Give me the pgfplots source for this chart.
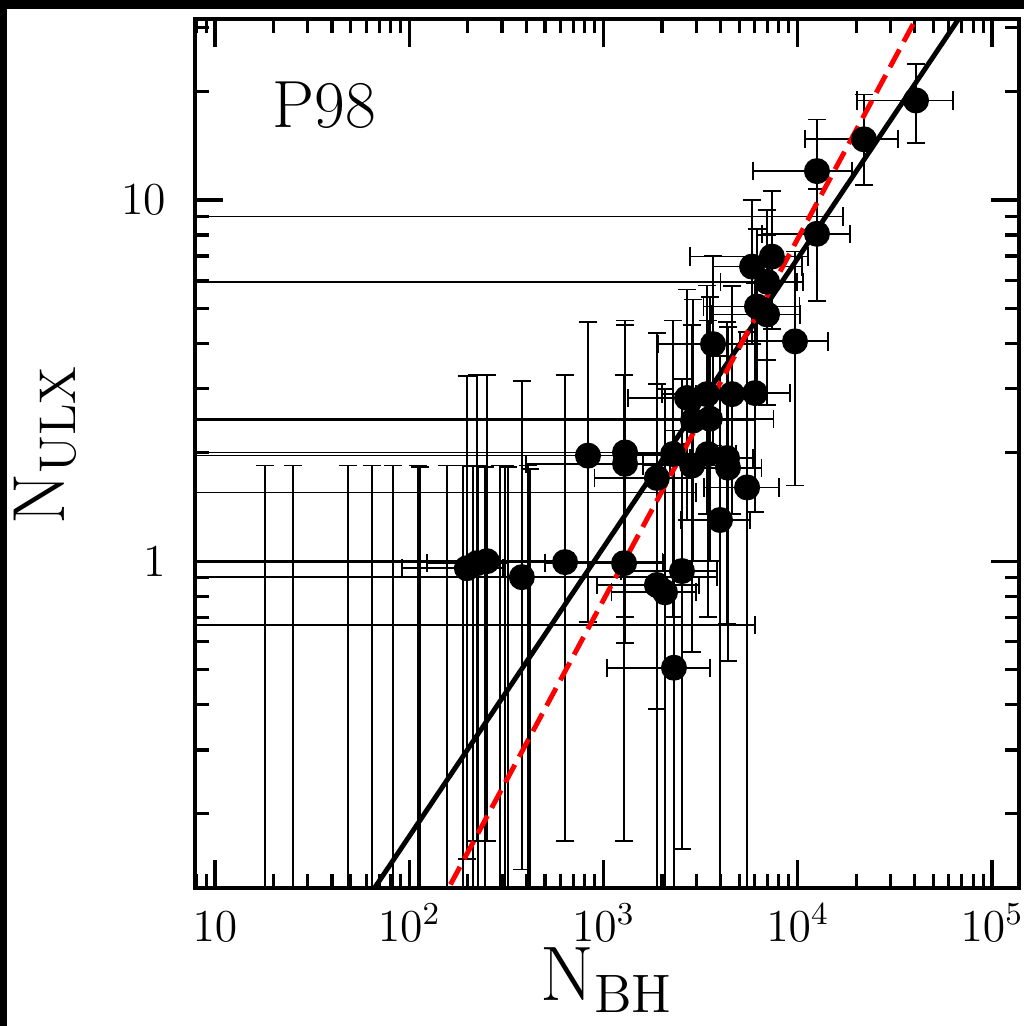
\RequirePackage{fix-cm}
\documentclass[border=0pt]{standalone}
\usepackage{pgfplots}
\usepackage{pgfplotstable}
\pgfplotsset{compat=1.18}

% galaxies with a visible marker: N_BH, N_ULX and the ends of their error bars
\pgfplotstableread{
x y xlo xhi ylo yhi
40640 18.86 20180 62960 14.4 23.8
21930 14.72 10890 32800 11.0 19.6
12560 12.02 5890 19010 8.4 16.7
12560 8.06 6560 18560 5.24 10.7
7360 6.97 2786 11300 4.4 10.6
5820 6.54 3664 10500 4.0 10.0
6950 5.94 4000 9900 3.6 9.4
6170 5.07 3270 10200 2.84 8.3
6950 4.82 3600 10300 2.7 8.0
3664 3.99 1900 6000 2.09 7.0
9680 4.06 5060 14300 1.62 7.2
2692 2.83 1340 4000 1.3 5.65
3413 2.90 2000 4800 1.35 5.8
4590 2.90 3000 6200 1.35 5.78
6030 2.92 4000 9120 1.37 5.9
2890 2.45 0.5 6000 1.0 5.3
3530 2.48 0.5 7500 1.0 5.4
832 1.96 0.5 2470 0.68 4.6
1291 2.00 0.5 2600 0.70 4.64
1291 1.86 400 2200 0.594 4.5
2280 1.98 1300 3300 0.70 4.64
1884 1.70 900 2900 0.389 4.28
2858 1.84 1600 4200 0.56 4.5
3450 1.98 2200 4800 0.70 4.64
4325 1.93 2800 5900 0.67 4.6
4375 1.815 2700 6500 0.53 4.45
5485 1.60 3300 8000 0.05 4.3
3981 1.30 2500 5700 0.05 3.7
198 0.956 92 304 0.15 3.25
223 0.987 123 323 0.168 3.27
251 1.0 0.5 700 0.168 3.27
380 0.903 0.5 3840 0.14 3.15
634 0.994 0.5 2010 0.168 3.27
1276 0.987 500 2050 0.168 3.27
1884 0.859 925 3100 0.05 3.1
2073 0.82 1100 3000 0.05 3.0
2535 0.939 1230 3840 0.16 3.2
2306 0.507 1045 3540 0.05 2.3
}\pts

% N_BH below the x range: only the upper x error shows
\pgfplotstableread{
x y xlo xhi ylo yhi
1 9.0 0.5 17100 6.0 13
1 5.94 0.5 10640 3.6 9.4
1 1.55 0.5 3000 0.4 4
1 0.667 0.5 6000 0.1 2.5
}\offleft

% N_ULX = 0: only the upper y error shows
\pgfplotstableread{
x y ylo yhi
18.1 0.01 0.005 1.84
25.2 0.01 0.005 1.84
48.4 0.01 0.005 1.84
64.3 0.01 0.005 1.84
82.5 0.01 0.005 1.84
110.9 0.01 0.005 1.84
113.6 0.01 0.005 1.82
156.4 0.01 0.005 1.84
189.1 0.01 0.005 1.84
212.9 0.01 0.005 1.83
225.9 0.01 0.005 1.84
245.5 0.01 0.005 1.82
293.2 0.01 0.005 1.84
311.2 0.01 0.005 1.84
322.4 0.01 0.005 1.82
408.6 0.01 0.005 1.84
418.4 0.01 0.005 1.80
}\offbottom

\begin{document}
\begin{tikzpicture}
\path[use as bounding box] (-1.95,-1.38) rectangle (8.29,8.88);
\fill[white] (-1.95,-1.38) rectangle (8.29,8.88);
\begin{axis}[
  at={(0,0)}, anchor=south west,
  scale only axis, width=8.24cm, height=8.69cm,
  xmode=log, ymode=log,
  xmin=7.89, xmax=137800, ymin=0.1245, ymax=31.7,
  axis line style={line width=1.1pt},
  tick style={line width=0.9pt, black},
  tick align=inside, tick pos=both,
  major tick length=0.28cm, minor tick length=0.14cm,
  xtick={10,100,1000,10000,100000},
  xticklabels={$10$,$10^2$,$10^3$,$10^4$,$10^5$},
  minor xtick={8,9,20,30,40,50,60,70,80,90,200,300,400,500,600,700,800,900,
    2000,3000,4000,5000,6000,7000,8000,9000,20000,30000,40000,50000,60000,70000,80000,90000},
  ytick={1,10}, yticklabels={1,10},
  minor ytick={0.2,0.3,0.4,0.5,0.6,0.7,0.8,0.9,2,3,4,5,6,7,8,9,20,30},
  tick label style={font=\fontsize{13}{15}\selectfont},
  xticklabel style={anchor=base, yshift=-0.53cm},
  yticklabel style={anchor=east, inner sep=0pt, xshift=-0.28cm},
  xlabel={$\mathrm{N_{BH}}$}, ylabel={$\mathrm{N_{ULX}}$},
  every axis x label/.style={at={(axis description cs:0.5,-0.068)}, anchor=north, inner sep=0pt,
    font=\fontsize{22}{26}\selectfont},
  every axis y label/.style={at={(axis description cs:-0.22,0.51)}, rotate=90, anchor=north, inner sep=0pt,
    font=\fontsize{21}{25}\selectfont},
]
\addplot[only marks, mark=*, mark size=3.5pt, mark options={fill=black, draw=black},
  error bars/.cd, x dir=both, x explicit, y dir=both, y explicit,
  error bar style={line width=0.5pt, black},
  error mark options={rotate=90, black, mark size=2.6pt, line width=0.5pt}]
  table[x=x, y=y,
    x error plus expr={\thisrow{xhi}-\thisrow{x}}, x error minus expr={\thisrow{x}-\thisrow{xlo}},
    y error plus expr={\thisrow{yhi}-\thisrow{y}}, y error minus expr={\thisrow{y}-\thisrow{ylo}}] {\pts};

\addplot[only marks, mark=none,
  error bars/.cd, x dir=both, x explicit, y dir=both, y explicit,
  error bar style={line width=0.5pt, black},
  error mark options={rotate=90, black, mark size=2.6pt, line width=0.5pt}]
  table[x=x, y=y,
    x error plus expr={\thisrow{xhi}-\thisrow{x}}, x error minus expr={\thisrow{x}-\thisrow{xlo}},
    y error plus expr={\thisrow{yhi}-\thisrow{y}}, y error minus expr={\thisrow{y}-\thisrow{ylo}}] {\offleft};

\addplot[only marks, mark=none,
  error bars/.cd, y dir=both, y explicit,
  error bar style={line width=0.5pt, black},
  error mark options={rotate=90, black, mark size=2.6pt, line width=0.5pt}]
  table[x=x, y=y,
    y error plus expr={\thisrow{yhi}-\thisrow{y}}, y error minus expr={\thisrow{y}-\thisrow{ylo}}] {\offbottom};

% fits: slope 0.8 (solid) and N_ULX = N_BH/1280 (dashed)
\addplot[black, line width=1.4pt] coordinates {(50,0.0994) (100000,43.5)};
\addplot[red, line width=1.4pt, dash pattern=on 0.2cm off 0.09cm] coordinates {(100,0.078125) (100000,78.125)};

\node[anchor=base west, font=\fontsize{19}{22}\selectfont] at (rel axis cs:0.079,0.8746) {P98};
\end{axis}
\fill[black] (-1.95,8.79) rectangle (8.29,8.88);
\fill[black] (-1.95,-1.38) rectangle (-1.88,8.88);
\end{tikzpicture}
\end{document}
